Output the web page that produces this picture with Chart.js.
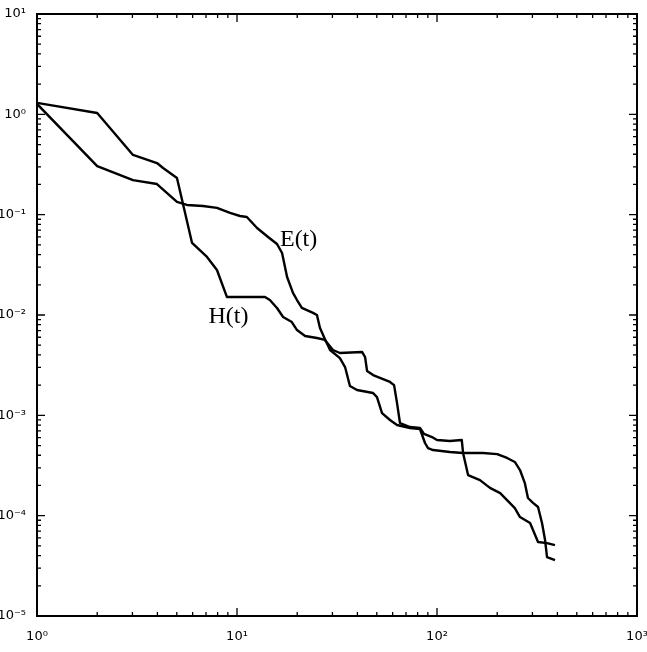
<!DOCTYPE html>
<html>
<head>
<meta charset="utf-8">
<script src="https://cdn.jsdelivr.net/npm/chart.js@4"></script>
<style>
  body { margin: 0; background: #fff; }
</style>
</head>
<body>
<canvas id="decay" width="647" height="652"></canvas>
<script>
// ---- data ----
const hT = [1, 2.0, 3.02, 3.98, 4.27, 5.01, 5.96, 7.08, 7.94, 8.91,
            13.8, 14.6, 15.85, 17.0, 18.8, 19.95, 21.9, 25.1, 27.5, 30.2,
            32.7, 42.2, 43.7, 44.7, 47.9, 58.2, 61.0, 63.1, 65.3, 73.3,
            82.2, 86.1, 94.4, 100, 116, 133, 135, 143, 164, 184,
            207, 224, 245, 260, 292, 320, 355, 389];
const hV = [1.30, 1.03, 0.394, 0.327, 0.292, 0.232, 0.0522, 0.0379, 0.0281, 0.0151,
            0.0151, 0.0141, 0.01175, 0.00955, 0.00851, 0.00708, 0.00618, 0.0059, 0.00564, 0.00448,
            0.00418, 0.00428, 0.00381, 0.00277, 0.00252, 0.00215, 0.0020, 0.00133, 0.000838, 0.000765,
            0.000748, 0.000652, 0.000608, 0.000568, 0.000555, 0.000568, 0.000421, 0.000254, 0.000226, 0.000189,
            0.000168, 0.000143, 0.000119, 0.0000969, 0.0000845, 0.0000546, 0.0000533, 0.0000509];

const eT = [1, 2.0, 3.02, 3.98, 5.01, 5.62, 6.76, 7.94, 9.23, 10.35,
            11.2, 12.6, 14.3, 15.85, 16.8, 17.8, 19.05, 19.95, 21.1, 24.0,
            25.1, 26.0, 27.5, 29.2, 32.7, 34.7, 36.7, 39.8, 47.9, 50.1,
            53.1, 58.2, 63.1, 73.3, 82.2, 87.1, 90.2, 95.5, 116, 135,
            170, 200, 224, 245, 260, 275, 285, 302, 320, 335,
            347, 355, 389];
const eV = [1.27, 0.305, 0.221, 0.202, 0.134, 0.125, 0.122, 0.117, 0.104, 0.097,
            0.0948, 0.0736, 0.0599, 0.051, 0.0415, 0.0239, 0.0166, 0.0141, 0.01175, 0.0105,
            0.0100, 0.00741, 0.00577, 0.00448, 0.00372, 0.00303, 0.00196, 0.00179, 0.00167, 0.00152,
            0.00105, 0.000898, 0.000801, 0.000748, 0.000731, 0.00053, 0.000472, 0.000451, 0.000431, 0.000421,
            0.000421, 0.000411, 0.000376, 0.000343, 0.000285, 0.000211, 0.00015, 0.000134, 0.000122, 0.0000845,
            0.0000571, 0.0000387, 0.0000361];

const xTicks = [1, 10, 100, 1000];
const yTicks = [1e-5, 1e-4, 1e-3, 1e-2, 1e-1, 1, 10];

// curve labels, placed in data coordinates
const labelText = ['E(t)', 'H(t)'];
const labelT    = [16.4, 7.2];
const labelV    = [0.049, 0.0083];

// ---- helpers ----
const SUP = { '0':'\u2070', '1':'\u00b9', '2':'\u00b2', '3':'\u00b3', '4':'\u2074',
              '5':'\u2075', '-':'\u207b' };
const pow10 = v => '10' + String(Math.round(Math.log10(v))).split('').map(c => SUP[c]).join('');
const pts = (t, v) => t.map((x, i) => ({ x: x, y: v[i] }));

// frame + inward ticks on all four sides + curve labels
const frameTicks = {
  id: 'frameTicks',
  afterDatasetsDraw(chart) {
    const { ctx, chartArea: a, scales: { x, y } } = chart;
    ctx.save();
    ctx.strokeStyle = '#000';
    ctx.lineWidth = 2;
    ctx.strokeRect(a.left, a.top, a.right - a.left, a.bottom - a.top);

    ctx.lineWidth = 1.3;
    ctx.beginPath();
    xTicks.slice(0, -1).forEach(d => {
      for (let k = 1; k <= 9; k++) {
        const px = x.getPixelForValue(d * k);
        const len = k === 1 ? 8 : 4;
        ctx.moveTo(px, a.bottom); ctx.lineTo(px, a.bottom - len);
        ctx.moveTo(px, a.top);    ctx.lineTo(px, a.top + len);
      }
    });
    yTicks.slice(0, -1).forEach(d => {
      for (let k = 1; k <= 9; k++) {
        const py = y.getPixelForValue(d * k);
        const len = k === 1 ? 8 : 4;
        ctx.moveTo(a.left, py);  ctx.lineTo(a.left + len, py);
        ctx.moveTo(a.right, py); ctx.lineTo(a.right - len, py);
      }
    });
    ctx.stroke();

    ctx.fillStyle = '#000';
    ctx.font = '24px "Liberation Serif", "DejaVu Serif", serif';
    ctx.textBaseline = 'alphabetic';
    labelText.forEach((s, i) => {
      ctx.fillText(s, x.getPixelForValue(labelT[i]), y.getPixelForValue(labelV[i]));
    });
    ctx.restore();
  }
};

new Chart(document.getElementById('decay'), {
  type: 'line',
  data: {
    datasets: [
      { label: 'E(t)', data: pts(eT, eV) },
      { label: 'H(t)', data: pts(hT, hV) }
    ]
  },
  options: {
    responsive: false,
    devicePixelRatio: 1,
    animation: false,
    layout: { padding: { top: 14, right: 10, left: 0, bottom: 0 } },
    elements: {
      line: { borderColor: '#000', borderWidth: 2.4, tension: 0, fill: false, borderJoinStyle: 'round' },
      point: { radius: 0 }
    },
    plugins: { legend: { display: false }, tooltip: { enabled: false } },
    scales: {
      x: {
        type: 'logarithmic',
        min: 1, max: 1000,
        grid: { display: false },
        border: { display: false },
        afterBuildTicks: s => { s.ticks = xTicks.map(v => ({ value: v })); },
        afterFit: s => { s.height = 36; s.paddingLeft = 0; s.paddingRight = 0; },
        ticks: {
          color: '#000',
          padding: 5,
          maxRotation: 0,
          autoSkip: false,
          font: { family: '"DejaVu Sans", sans-serif', size: 13 },
          callback: v => pow10(v)
        }
      },
      y: {
        type: 'logarithmic',
        min: 1e-5, max: 10,
        grid: { display: false },
        border: { display: false },
        afterBuildTicks: s => { s.ticks = yTicks.map(v => ({ value: v })); },
        afterFit: s => { s.width = 37; s.paddingTop = 0; s.paddingBottom = 0; },
        ticks: {
          color: '#000',
          padding: 3,
          autoSkip: false,
          font: { family: '"DejaVu Sans", sans-serif', size: 13 },
          callback: v => pow10(v)
        }
      }
    }
  },
  plugins: [frameTicks]
});
</script>
</body>
</html>
